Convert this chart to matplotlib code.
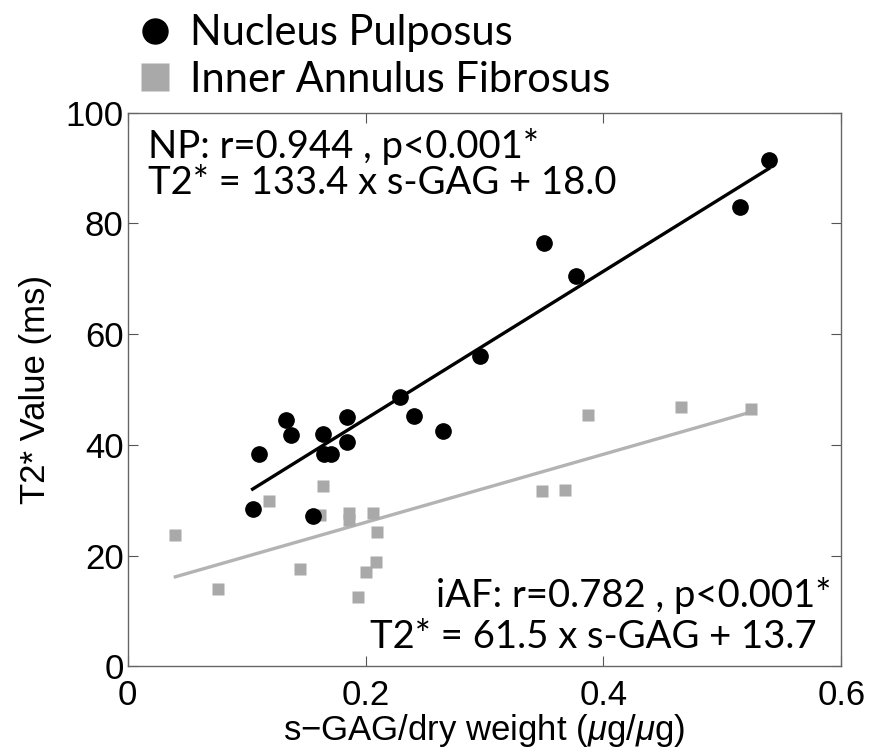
import matplotlib.pyplot as plt
from matplotlib.lines import Line2D
import numpy as np

# Nucleus Pulposus
np_gag = [0.105, 0.110, 0.133, 0.1375, 0.156, 0.164, 0.165, 0.171, 0.184, 0.184,
          0.229, 0.241, 0.265, 0.296, 0.350, 0.377, 0.515, 0.539]
np_t2 = [28.5, 38.3, 44.5, 41.8, 27.1, 42.0, 38.3, 38.3, 45.0, 40.6,
         48.6, 45.2, 42.5, 56.1, 76.5, 70.5, 82.9, 91.5]

# Inner Annulus Fibrosus
af_gag = [0.040, 0.076, 0.119, 0.145, 0.162, 0.164, 0.186, 0.186, 0.194, 0.2006,
          0.206, 0.209, 0.210, 0.348, 0.368, 0.387, 0.465, 0.524]
af_t2 = [23.8, 13.9, 29.8, 17.5, 27.3, 32.5, 27.7, 26.4, 12.5, 17.1,
         27.7, 18.8, 24.2, 31.6, 31.8, 45.4, 46.8, 46.4]

np_fit = (133.4, 18.0)
af_fit = (61.5, 13.7)

black = "black"
gray = "#a9a9a9"

plt.rcParams['font.family'] = ['Liberation Sans', 'DejaVu Sans']
plt.rcParams['mathtext.fontset'] = 'custom'
plt.rcParams['mathtext.it'] = 'Liberation Sans:italic'
plt.rcParams['mathtext.rm'] = 'Liberation Sans'

fig = plt.figure(figsize=(8.69, 7.52), dpi=100)
ax = fig.add_axes([0.147, 0.114, 0.821, 0.736])

ax.plot(np_gag, np_t2, 'o', color=black, markersize=11, ls='none', zorder=3)
ax.plot(af_gag, af_t2, 's', color=gray, markersize=8.5, ls='none',
        mec='none', zorder=2)

xs = np.array([min(np_gag), max(np_gag)])
ax.plot(xs, np_fit[0] * xs + np_fit[1], color=black, lw=2.4, zorder=4)
xs = np.array([min(af_gag), max(af_gag)])
ax.plot(xs, af_fit[0] * xs + af_fit[1], color="#b3b3b3", lw=2.4, zorder=1)

ax.set_xlim(0, 0.6)
ax.set_ylim(0, 100)
ax.set_xticks([0, 0.2, 0.4, 0.6])
ax.set_xticklabels(['0', '0.2', '0.4', '0.6'])
ax.set_yticks([0, 20, 40, 60, 80, 100])
ax.tick_params(direction='in', length=7, width=0.8, color='#555555',
               labelsize=25, top=True, right=True)
ax.tick_params(axis='x', pad=9)
ax.tick_params(axis='y', pad=3)
for s in ax.spines.values():
    s.set_color('#666666')
    s.set_linewidth(1.0)

ax.set_xlabel(r's$-$GAG/dry weight ($\mu$g/$\mu$g)', fontsize=25, labelpad=0)
ax.set_ylabel('T2* Value (ms)', fontsize=25, labelpad=10)

txt_font = ['Lato', 'DejaVu Sans']
ax.text(0.028, 0.972, 'NP: r=0.944 , p<0.001*\nT2* = 133.4 x s-GAG + 18.0',
        transform=ax.transAxes, ha='left', va='top', fontsize=27.5,
        family=txt_font, linespacing=1.0)
ax.text(0.986, 0.107, 'iAF: r=0.782 , p<0.001*',
        transform=ax.transAxes, ha='right', va='baseline', fontsize=27.5,
        family=txt_font)
ax.text(0.965, 0.033, 'T2* = 61.5 x s-GAG + 13.7',
        transform=ax.transAxes, ha='right', va='baseline', fontsize=27.5,
        family=txt_font)

handles = [Line2D([], [], marker='o', color=black, ls='none', markersize=18),
           Line2D([], [], marker='s', color=gray, mec='none', ls='none',
                  markersize=20)]
fig.legend(handles, ['Nucleus Pulposus', 'Inner Annulus Fibrosus'],
           loc='upper left', bbox_to_anchor=(0.140, 1.003),
           frameon=False, prop={'family': txt_font, 'size': 30},
           handletextpad=0.45, handlelength=0.8, labelspacing=0.2,
           borderaxespad=0.0)

fig.savefig('out.png', dpi=100)
